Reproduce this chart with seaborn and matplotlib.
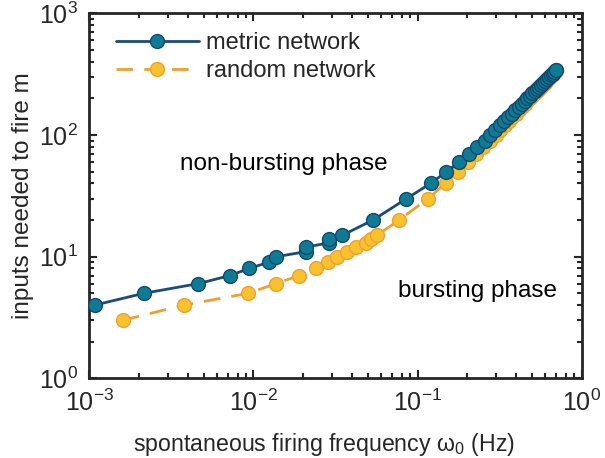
import matplotlib
matplotlib.use("Agg")
import matplotlib.pyplot as plt
import seaborn as sns
import pandas as pd
from matplotlib.lines import Line2D

# ---- data ----
metric_m = [4, 5, 6, 7, 8, 9, 10, 11, 12, 13, 14, 15, 20, 30, 40, 50, 60, 70, 80, 90,
            100, 110, 120, 130, 140, 150, 160, 170, 180, 190, 200, 210, 220, 230, 240,
            250, 260, 270, 280, 290, 300, 310, 320, 330, 340]
metric_w = [0.00108, 0.00215, 0.0046, 0.0072, 0.0094, 0.0124, 0.0138, 0.0208, 0.0210,
            0.0288, 0.0289, 0.0348, 0.0535, 0.0855, 0.120, 0.150, 0.179, 0.206, 0.230,
            0.256, 0.277, 0.298, 0.318, 0.338, 0.357, 0.376, 0.394, 0.413, 0.431, 0.449,
            0.467, 0.484, 0.501, 0.518, 0.535, 0.552, 0.568, 0.585, 0.601, 0.617, 0.633,
            0.649, 0.664, 0.680, 0.696]

random_m = [3, 4, 5, 6, 7, 8, 9, 10, 11, 12, 13, 14, 15, 20, 30, 40, 50, 60, 70, 80, 90,
            100, 110, 120, 130, 140, 150, 160, 170, 180, 190, 200, 210, 220, 230, 240,
            250, 260, 270, 280, 290, 300, 310, 320, 330, 340]
random_w = [0.00160, 0.00377, 0.0093, 0.0137, 0.0190, 0.0242, 0.0285, 0.0321, 0.0369,
            0.0424, 0.0483, 0.0523, 0.0566, 0.0771, 0.1156, 0.148, 0.176, 0.203, 0.228,
            0.252, 0.278, 0.299, 0.320, 0.340, 0.360, 0.378, 0.396, 0.414, 0.432, 0.449,
            0.466, 0.483, 0.500, 0.516, 0.532, 0.548, 0.564, 0.579, 0.595, 0.610, 0.625,
            0.640, 0.655, 0.669, 0.684, 0.699]

series_labels = ["metric network", "random network"]
xlabel = "spontaneous firing frequency $\\omega_0$ (Hz)"
ylabel = "inputs needed to fire m"
phase_labels = ["non-bursting phase", "bursting phase"]

# ---- styling ----
sns.set_style("ticks")
plt.rcParams["font.family"] = ["Liberation Sans", "DejaVu Sans"]
plt.rcParams["mathtext.fontset"] = "custom"
plt.rcParams["mathtext.rm"] = "Liberation Sans"
plt.rcParams["mathtext.it"] = "Liberation Sans"
plt.rcParams["mathtext.default"] = "regular"

navy = "#1b4b7d"
teal = "#0f7a94"
teal_edge = "#124a6e"
orange = "#f0a030"
yellow = "#f8c22e"
axcol = "#262626"
dash = (0, (6, 4))

fig = plt.figure(figsize=(6.05, 4.58), dpi=100)
ax = fig.add_axes([0.1476, 0.174, 0.8139, 0.7966])

df_r = pd.DataFrame({"w": random_w, "m": random_m})
df_m = pd.DataFrame({"w": metric_w, "m": metric_m})

sns.lineplot(data=df_r, x="w", y="m", ax=ax, color=orange, lw=2.0, sort=False,
             marker="o", markersize=10, markerfacecolor=yellow, markeredgecolor=orange,
             markeredgewidth=1.0, linestyle=dash, zorder=2)
sns.lineplot(data=df_m, x="w", y="m", ax=ax, color=navy, lw=2.0, sort=False,
             marker="o", markersize=10, markerfacecolor=teal, markeredgecolor=teal_edge,
             markeredgewidth=1.0, zorder=3)

ax.set_xscale("log")
ax.set_yscale("log")
ax.set_xlim(1e-3, 1e0)
ax.set_ylim(1e0, 1e3)

ax.set_xlabel(xlabel, fontsize=16.7, color=axcol, labelpad=6)
ax.xaxis.set_label_coords(0.477, -0.145)
ax.set_ylabel(ylabel, fontsize=17.5, color=axcol, labelpad=4)

ax.tick_params(which="both", direction="in", top=True, right=True, colors=axcol,
               labelsize=18, width=1.5)
ax.tick_params(which="major", length=6, pad=8)
ax.tick_params(which="minor", length=3.5)
for s in ax.spines.values():
    s.set_linewidth(2.0)
    s.set_color(axcol)

ax.text(0.0153, 57.8, phase_labels[0], fontsize=17.5, ha="center", va="center", color="black")
ax.text(0.232, 5.27, phase_labels[1], fontsize=17.5, ha="center", va="center", color="black")

handles = [
    Line2D([], [], color=navy, lw=2.0, marker="o", markersize=10,
           markerfacecolor=teal, markeredgecolor=teal_edge),
    Line2D([], [], color=orange, lw=2.0, linestyle=dash, marker="o", markersize=10,
           markerfacecolor=yellow, markeredgecolor=orange),
]
ax.legend(handles, series_labels, loc="upper left", bbox_to_anchor=(0.045, 0.962),
          frameon=False, fontsize=17, handlelength=3.5, handletextpad=0.3,
          labelspacing=0.25, borderpad=0.2, borderaxespad=0)

fig.savefig("out.png", dpi=100)
